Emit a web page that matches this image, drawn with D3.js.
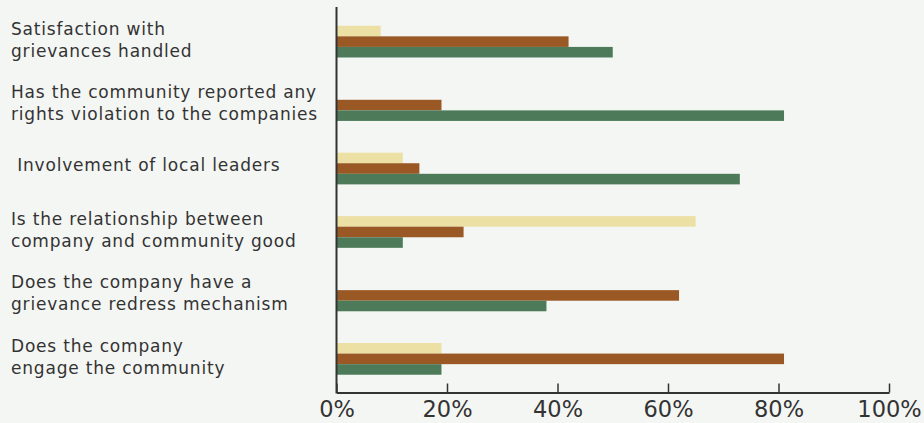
<!DOCTYPE html>
<html>
<head>
<meta charset="utf-8">
<script src="https://cdn.jsdelivr.net/npm/d3@7"></script>
<style>
  html, body { margin: 0; padding: 0; background: #f4f6f3; }
  svg { display: block; }
  text { font-family: "DejaVu Sans", "Noto Sans", sans-serif; fill: #333; }
</style>
</head>
<body>
<svg id="chart" width="924" height="423"></svg>
<script>
// Survey questions (each label split into display lines)
const questions = [
  ["Satisfaction with", "grievances handled"],
  ["Has the community reported any", "rights violation to the companies"],
  [" Involvement of local leaders"],
  ["Is the relationship between", "company and community good"],
  ["Does the company have a", "grievance redress mechanism"],
  ["Does the company", "engage the community"]
];
const seriesNames = ["Partially", "Yes", "No"];
const seriesColors = ["#ece0a5", "#9a5825", "#4d7b5a"];

// Share of responses (%) per question, one array per series
const partially = [8, 0, 12, 65, 0, 19];
const yes       = [42, 19, 15, 23, 62, 81];
const no        = [50, 81, 73, 12, 38, 19];
const seriesValues = [partially, yes, no];

const xTicks = [0, 20, 40, 60, 80, 100];

const svg = d3.select("#chart");
const margin = { left: 336.5, right: 35, top: 7, bottom: 30.5 };
const W = 924, H = 423;

const x = d3.scaleLinear().domain([0, 100]).range([margin.left, W - margin.right]);
const y = d3.scaleBand()
  .domain(d3.range(questions.length))
  .range([margin.top + 1, H - margin.bottom])
  .paddingInner(0.5)
  .paddingOuter(0.28);
const ySub = d3.scaleBand()
  .domain(d3.range(seriesNames.length))
  .range([0, y.bandwidth()]);

// Bars
const groups = svg.append("g").selectAll("g")
  .data(questions.map((q, i) => i))
  .join("g")
  .attr("transform", i => `translate(0,${y(i)})`);

groups.selectAll("rect")
  .data(i => seriesValues.map((vals, s) => ({ s, v: vals[i] })).filter(d => d.v > 0))
  .join("rect")
  .attr("x", x(0))
  .attr("y", d => ySub(d.s))
  .attr("width", d => x(d.v) - x(0))
  .attr("height", ySub.bandwidth())
  .attr("fill", d => seriesColors[d.s]);

// Category labels
const labels = svg.append("g").selectAll("text")
  .data(questions)
  .join("text")
  .attr("x", 11)
  .attr("font-size", 17)
  .attr("letter-spacing", 0.8)
  .style("white-space", "pre");
labels.each(function (lines, i) {
  const c = y(i) + y.bandwidth() / 2;
  const first = lines.length === 1 ? c + 2 : c - 7;
  d3.select(this).selectAll("tspan")
    .data(lines)
    .join("tspan")
    .attr("x", 11)
    .attr("y", (d, k) => first + k * 22)
    .text(d => d);
});

// X axis
const xAxis = d3.axisBottom(x)
  .tickValues(xTicks)
  .tickFormat(d => d + "%")
  .tickSize(-9)
  .tickPadding(9)
  .tickSizeOuter(0);
const gx = svg.append("g")
  .attr("transform", `translate(0,${H - margin.bottom})`)
  .call(xAxis);
gx.select(".domain").attr("stroke", "#333").attr("stroke-width", 2);
gx.selectAll(".tick line").attr("stroke", "#333").attr("stroke-width", 1.5);
gx.selectAll(".tick text")
  .attr("font-family", "'DejaVu Sans', sans-serif")
  .attr("font-size", 22.5)
  .attr("fill", "#333");

// Y axis line
svg.append("line")
  .attr("x1", x(0)).attr("x2", x(0))
  .attr("y1", margin.top).attr("y2", H - margin.bottom + 1)
  .attr("stroke", "#333")
  .attr("stroke-width", 2);
</script>
</body>
</html>
